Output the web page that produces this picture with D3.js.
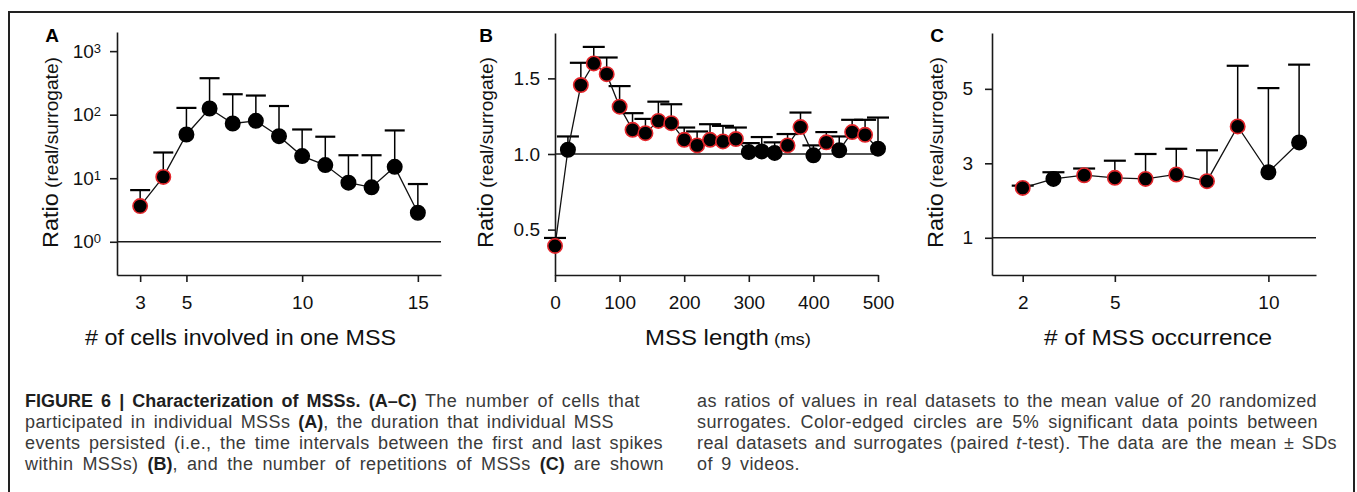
<!DOCTYPE html>
<html>
<head>
<meta charset="utf-8">
<script src="https://cdn.jsdelivr.net/npm/d3@7"></script>
<style>
  body { margin: 0; background: #fff; }
  svg { display: block; font-family: "Liberation Sans", Arial, sans-serif; }
</style>
</head>
<body>
<svg id="fig" width="1357" height="492"></svg>
<script>
// Panel A: number of cells per MSS (log scale)
const cellsX = [3, 4, 5, 6, 7, 8, 9, 10, 11, 12, 13, 14, 15];
const cellsMean = [3.64, 10.5, 48.8, 125, 72.7, 80, 45.9, 22.3, 16.1, 8.5, 7.2, 15.1, 2.86];
const cellsSD = [2.86, 14.9, 79, 250, 137, 120, 91, 36.2, 28.9, 14.5, 15.8, 41.4, 5.24];
const cellsSig = [1, 1, 0, 0, 0, 0, 0, 0, 0, 0, 0, 0, 0];

// Panel B: MSS length (ms)
const lengthX = [0, 20, 40, 60, 80, 100, 120, 140, 160, 180, 200, 220, 240, 260, 280, 300, 320, 340, 360, 380, 400, 420, 440, 460, 480, 500];
const lengthMean = [0.392, 1.028, 1.456, 1.599, 1.528, 1.313, 1.16, 1.138, 1.219, 1.204, 1.094, 1.057, 1.094,
                    1.083, 1.099, 1.013, 1.017, 1.007, 1.057, 1.178, 0.991, 1.077, 1.024, 1.145, 1.127, 1.035];
const lengthSD = [0.053, 0.088, 0.147, 0.109, 0.110, 0.136, 0.110, 0.094, 0.127, 0.125, 0.081, 0.092, 0.103,
                  0.103, 0.076, 0.059, 0.095, 0.070, 0.075, 0.096, 0.066, 0.068, 0.092, 0.081, 0.099, 0.206];
const lengthSig = [1, 0, 1, 1, 1, 1, 1, 1, 1, 1, 1, 1, 1, 1, 1, 0, 0, 0, 1, 1, 0, 1, 0, 1, 1, 0];

// Panel C: number of MSS occurrences
const occurX = [2, 3, 4, 5, 6, 7, 8, 9, 10, 11];
const occurMean = [2.34, 2.58, 2.68, 2.61, 2.58, 2.70, 2.52, 3.99, 2.76, 3.56];
const occurSD = [0.06, 0.18, 0.18, 0.46, 0.67, 0.69, 0.83, 1.63, 2.26, 2.09];
const occurSig = [1, 0, 1, 1, 1, 1, 1, 1, 0, 0];

// tick values
const cellsXTicks = [3, 5, 10, 15];
const cellsYTicks = [1, 10, 100, 1000];
const lengthXTicks = [0, 100, 200, 300, 400, 500];
const lengthYTicks = [0.5, 1.0, 1.5];
const occurXTicks = [2, 5, 10];
const occurYTicks = [1, 3, 5];

// caption text, one entry per printed line: [text, style]
const captionLeft = [
  [["FIGURE 6 | Characterization of MSSs. (A–C)", "b"], [" The number of cells that", ""]],
  [["participated in individual MSSs ", ""], ["(A)", "b"], [", the duration that individual MSS", ""]],
  [["events persisted (i.e., the time intervals between the first and last spikes", ""]],
  [["within MSSs) ", ""], ["(B)", "b"], [", and the number of repetitions of MSSs ", ""], ["(C)", "b"], [" are shown", ""]]
];
const captionRight = [
  [["as ratios of values in real datasets to the mean value of 20 randomized", ""]],
  [["surrogates. Color-edged circles are 5% significant data points between", ""]],
  [["real datasets and surrogates (paired ", ""], ["t", "i"], ["-test). The data are the mean ± SDs", ""]],
  [["of 9 videos.", ""]]
];

const svg = d3.select("#fig");
svg.append("rect").attr("width", 1357).attr("height", 492).attr("fill", "#fff");

// figure frame (bottom edge lies below the crop)
svg.append("rect")
  .attr("x", 9).attr("y", 12).attr("width", 1345).attr("height", 620)
  .attr("fill", "none").attr("stroke", "#222").attr("stroke-width", 2);

const panels = [
  {
    letter: "A", letterX: 52, labelX: 58,
    xs: cellsX, mean: cellsMean, sd: cellsSD, sig: cellsSig,
    x: d3.scaleLinear().domain([2, 16]).range([117, 441]),
    y: d3.scaleLog().domain([0.3, 2000]).range([275, 32]),
    xTicks: cellsXTicks, yTicks: cellsYTicks, yPad: 9, ref: 1,
    cap: 10, title: [["# of cells involved in one MSS", 22]], titleX: [85, 396]
  },
  {
    letter: "B", letterX: 486, labelX: 493,
    xs: lengthX, mean: lengthMean, sd: lengthSD, sig: lengthSig,
    x: d3.scaleLinear().domain([0, 500]).range([555, 878]),
    y: d3.scaleLinear().domain([0.2, 1.8]).range([275, 33]),
    xTicks: lengthXTicks, yTicks: lengthYTicks, yPad: 8, yFormat: d3.format(".1f"), ref: 1,
    cap: 11, title: [["MSS length", 22], [" (ms)", 17]], titleX: [645, 811]
  },
  {
    letter: "C", letterX: 937, labelX: 943,
    xs: occurX, mean: occurMean, sd: occurSD, sig: occurSig,
    x: d3.scaleLinear().domain([1, 11.55]).range([992, 1316]),
    y: d3.scaleLinear().domain([0, 6.5]).range([275, 33]),
    xTicks: occurXTicks, yTicks: occurYTicks, yPad: 12, yFormat: d3.format("d"), ref: 1,
    cap: 11, title: [["# of MSS occurrence", 22]], titleX: [1044, 1272]
  }
];

panels.forEach(p => {
  const g = svg.append("g");
  const [x0, x1] = p.x.range();
  const [yb, yt] = p.y.range();

  // axes
  const xAxis = g.append("g")
    .attr("transform", "translate(0," + yb + ")")
    .call(d3.axisBottom(p.x).tickValues(p.xTicks).tickSize(7).tickSizeOuter(0).tickPadding(14));
  const yAxis = g.append("g")
    .attr("transform", "translate(" + x0 + ",0)")
    .call(d3.axisLeft(p.y).tickValues(p.yTicks).tickSize(7).tickSizeOuter(0).tickPadding(p.yPad)
      .tickFormat(p.yFormat || (d => "")));

  [xAxis, yAxis].forEach(a => {
    a.select(".domain").attr("stroke", "#1a1a1a").attr("stroke-width", 1.6);
    a.selectAll(".tick line").attr("stroke", "#1a1a1a").attr("stroke-width", 1.6);
    a.selectAll(".tick text").attr("fill", "#111").attr("font-size", 19)
      .attr("font-family", "'Liberation Sans', Arial, sans-serif");
  });

  // powers of ten for the log panel
  if (!p.yFormat) {
    yAxis.selectAll(".tick text").each(function(d) {
      const t = d3.select(this);
      t.text("10");
      t.append("tspan").attr("font-size", 13).attr("dy", -5).text(Math.round(Math.log10(d)));
    });
  }

  // reference line at ratio = 1
  g.append("line")
    .attr("x1", x0).attr("x2", x1)
    .attr("y1", p.y(p.ref)).attr("y2", p.y(p.ref))
    .attr("stroke", "#1a1a1a").attr("stroke-width", 1.4);

  const pts = p.xs.map((v, i) => ({ x: v, m: p.mean[i], s: p.sd[i], sig: p.sig[i] }));

  // error bars (mean + SD)
  const eb = g.append("g").attr("stroke", "#000");
  eb.selectAll("line.v").data(pts).enter().append("line")
    .attr("class", "v")
    .attr("x1", d => p.x(d.x)).attr("x2", d => p.x(d.x))
    .attr("y1", d => p.y(d.m)).attr("y2", d => p.y(d.m + d.s))
    .attr("stroke-width", 1.5);
  eb.selectAll("line.c").data(pts).enter().append("line")
    .attr("class", "c")
    .attr("x1", d => p.x(d.x) - p.cap).attr("x2", d => p.x(d.x) + p.cap)
    .attr("y1", d => p.y(d.m + d.s)).attr("y2", d => p.y(d.m + d.s))
    .attr("stroke-width", 2.2);

  // connecting line
  g.append("path")
    .datum(pts)
    .attr("fill", "none").attr("stroke", "#111").attr("stroke-width", 1.3)
    .attr("d", d3.line().x(d => p.x(d.x)).y(d => p.y(d.m)));

  // points, significant ones with a red edge
  g.selectAll("circle").data(pts).enter().append("circle")
    .attr("cx", d => p.x(d.x)).attr("cy", d => p.y(d.m))
    .attr("r", 7.2)
    .attr("fill", "#000")
    .attr("stroke", d => d.sig ? "#e3262b" : "#000")
    .attr("stroke-width", 1.6);

  // panel letter
  g.append("text")
    .attr("x", p.letterX).attr("y", 42)
    .attr("text-anchor", "middle")
    .attr("font-size", 19).attr("font-weight", "bold").attr("fill", "#000")
    .text(p.letter);

  // y label
  const yl = g.append("text")
    .attr("transform", "translate(" + p.labelX + ",248) rotate(-90)")
    .attr("fill", "#111")
    .attr("textLength", 191).attr("lengthAdjust", "spacingAndGlyphs");
  yl.append("tspan").attr("font-size", 22).text("Ratio");
  yl.append("tspan").attr("font-size", 18).text(" (real/surrogate)");

  // x title
  const xt = g.append("text")
    .attr("x", p.titleX[0]).attr("y", 345)
    .attr("fill", "#111")
    .attr("textLength", p.titleX[1] - p.titleX[0]).attr("lengthAdjust", "spacingAndGlyphs");
  p.title.forEach(([t, s]) => xt.append("tspan").attr("font-size", s).text(t));
});

// caption, two justified columns
const capTop = 407, capStep = 21;
function captionColumn(lines, x, ends) {
  lines.forEach((segs, i) => {
    const t = svg.append("text")
      .attr("x", x).attr("y", capTop + i * capStep)
      .attr("font-size", 18).attr("fill", "#3a3a3a")
      .attr("letter-spacing", 0.4);
    segs.forEach(([s, st]) => {
      const sp = t.append("tspan").text(s);
      if (st === "b") sp.attr("font-weight", "bold").attr("fill", "#1e1e1e").attr("letter-spacing", 0);
      if (st === "i") sp.attr("font-style", "italic");
    });
    if (ends[i]) {
      const full = segs.map(s => s[0]).join("");
      const nSpaces = (full.match(/ /g) || []).length;
      const natural = t.node().getComputedTextLength();
      t.attr("word-spacing", (ends[i] - x - natural) / nSpaces);
    } else {
      t.attr("word-spacing", 3);
    }
  });
}
captionColumn(captionLeft, 25, [640, 614, 663, 664]);
captionColumn(captionRight, 697, [1317, 1318, 1337, null]);
</script>
</body>
</html>
